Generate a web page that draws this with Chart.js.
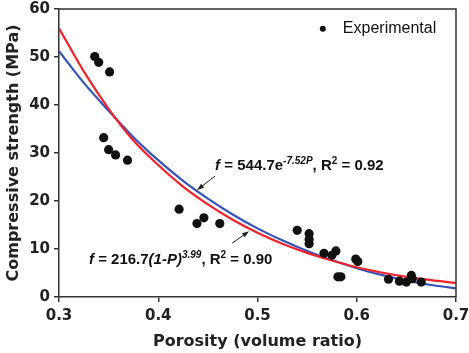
<!DOCTYPE html>
<html>
<head>
<meta charset="utf-8">
<title>Compressive strength vs porosity</title>
<script src="https://cdn.jsdelivr.net/npm/chart.js@4.4.0/dist/chart.umd.min.js"></script>
<style>
  body { margin: 0; background: #fff; }
</style>
</head>
<body>
<canvas id="chart" width="469" height="353"></canvas>
<script>
// experimental points (porosity, MPa)
const expPorosity = [0.336, 0.340, 0.351, 0.345, 0.350, 0.357, 0.369,
                     0.421, 0.439, 0.446, 0.462,
                     0.540, 0.552, 0.552, 0.552, 0.567, 0.575, 0.579, 0.599, 0.601,
                     0.581, 0.584, 0.632, 0.643, 0.650, 0.655, 0.656, 0.665];
const expStrength = [50.1, 48.9, 46.9, 33.2, 30.7, 29.6, 28.5,
                     18.3, 15.3, 16.5, 15.3,
                     13.9, 13.2, 12.0, 11.1, 9.1, 8.7, 9.6, 7.9, 7.4,
                     4.2, 4.2, 3.7, 3.3, 3.1, 4.5, 3.8, 3.1];

// fitted curves
const fitPorosity = [0.300, 0.325, 0.350, 0.375, 0.400, 0.425, 0.450, 0.475, 0.500,
                     0.525, 0.550, 0.575, 0.600, 0.625, 0.650, 0.675, 0.700];
const fitRed  = [56.0, 47.0, 39.2, 32.6, 27.5, 23.0, 19.3, 16.1, 13.4,
                 11.1, 9.2, 7.6, 6.2, 5.1, 4.2, 3.5, 2.9];
const fitBlue = [51.2, 44.6, 38.8, 33.3, 28.5, 24.2, 20.5, 17.2, 14.3,
                 11.8, 9.6, 7.7, 6.0, 4.6, 3.4, 2.5, 1.8];

const xTicks = [0.3, 0.4, 0.5, 0.6, 0.7];
const yTicks = [0, 10, 20, 30, 40, 50, 60];

function pairs(xs, ys) {
    return xs.map(function(x, i) { return {x: x, y: ys[i]}; });
}

const SANS = '"Liberation Sans", Arial, sans-serif';
const AXISFONT = '"DejaVu Sans", sans-serif';

// draw a line of text made of parts with different fonts / superscripts
function drawParts(ctx, x, y, parts) {
    ctx.textBaseline = 'alphabetic';
    ctx.textAlign = 'left';
    parts.forEach(function(p) {
        ctx.font = p.font;
        ctx.fillText(p.t, x, y - (p.up || 0));
        x += ctx.measureText(p.t).width;
    });
}

function drawArrow(ctx, x1, y1, x2, y2) {
    const ang = Math.atan2(y2 - y1, x2 - x1);
    ctx.beginPath();
    ctx.moveTo(x1, y1);
    ctx.lineTo(x2 - 5 * Math.cos(ang), y2 - 5 * Math.sin(ang));
    ctx.stroke();
    ctx.beginPath();
    ctx.moveTo(x2, y2);
    ctx.lineTo(x2 - 7 * Math.cos(ang) + 2.5 * Math.sin(ang), y2 - 7 * Math.sin(ang) - 2.5 * Math.cos(ang));
    ctx.lineTo(x2 - 7 * Math.cos(ang) - 2.5 * Math.sin(ang), y2 - 7 * Math.sin(ang) + 2.5 * Math.cos(ang));
    ctx.closePath();
    ctx.fill();
}

// frame, legend and the two equation labels
const extras = {
    id: 'extras',
    afterDraw: function(chart) {
        const ctx = chart.ctx;
        const xs = chart.scales.x, ys = chart.scales.y;
        const a = chart.chartArea;
        const px = function(v) { return xs.getPixelForValue(v); };
        const py = function(v) { return ys.getPixelForValue(v); };
        ctx.save();

        // top and right border
        ctx.strokeStyle = '#333';
        ctx.lineWidth = 1.5;
        ctx.beginPath();
        ctx.moveTo(a.left, a.top);
        ctx.lineTo(a.right, a.top);
        ctx.lineTo(a.right, a.bottom);
        ctx.stroke();

        // legend
        ctx.fillStyle = '#111';
        ctx.beginPath();
        ctx.arc(px(0.5658), py(55.9), 3, 0, Math.PI * 2);
        ctx.fill();
        ctx.font = '16px ' + SANS;
        ctx.textBaseline = 'middle';
        ctx.fillText('Experimental', px(0.586), py(56.0));

        const B = 'bold 15px ' + SANS;
        const BI = 'italic bold 15px ' + SANS;
        const S = 'bold 10px ' + SANS;
        const SI = 'italic bold 10px ' + SANS;

        drawParts(ctx, px(0.4573), py(26.45), [
            {t: 'f', font: BI},
            {t: ' = 544.7e', font: B},
            {t: '-7.52P', font: SI, up: 6},
            {t: ', R', font: B},
            {t: '2', font: S, up: 6},
            {t: ' = 0.92', font: B}
        ]);
        drawParts(ctx, px(0.3302), py(6.83), [
            {t: 'f', font: BI},
            {t: ' = 216.7', font: B},
            {t: '(1-P)', font: BI},
            {t: '3.99', font: SI, up: 6},
            {t: ', R', font: B},
            {t: '2', font: S, up: 6},
            {t: ' = 0.90', font: B}
        ]);

        ctx.strokeStyle = '#222';
        ctx.fillStyle = '#222';
        ctx.lineWidth = 1;
        drawArrow(ctx, px(0.4573), py(25.2), px(0.4391), py(22.3));
        drawArrow(ctx, px(0.4744), py(11.2), px(0.4915), py(13.7));
        ctx.restore();
    }
};

new Chart(document.getElementById('chart'), {
    type: 'scatter',
    data: {
        datasets: [{
            label: 'Experimental',
            data: pairs(expPorosity, expStrength),
            backgroundColor: '#111',
            borderColor: '#111',
            borderWidth: 0,
            pointRadius: 4.6
        }, {
            label: 'fit red',
            type: 'line',
            data: pairs(fitPorosity, fitRed),
            borderColor: '#f0222a',
            borderWidth: 2.2,
            pointRadius: 0,
            fill: false,
            cubicInterpolationMode: 'monotone'
        }, {
            label: 'fit blue',
            type: 'line',
            data: pairs(fitPorosity, fitBlue),
            borderColor: '#3553b8',
            borderWidth: 2.2,
            pointRadius: 0,
            fill: false,
            cubicInterpolationMode: 'monotone'
        }]
    },
    options: {
        responsive: false,
        animation: false,
        layout: { padding: { top: 9, right: 13, left: 0, bottom: 0 } },
        plugins: {
            legend: { display: false },
            tooltip: { enabled: false }
        },
        scales: {
            x: {
                type: 'linear',
                min: 0.3,
                max: 0.7,
                afterFit: function(s) { s.height = 56; s.paddingRight = 0; s.paddingLeft = 0; },
                afterBuildTicks: function(s) { s.ticks = xTicks.map(function(v) { return {value: v}; }); },
                ticks: {
                    padding: 7,
                    color: '#222',
                    font: { family: AXISFONT, size: 15, weight: 'bold', lineHeight: 1 },
                    callback: function(v) { return v.toFixed(1); }
                },
                grid: { drawOnChartArea: false, drawTicks: true, tickLength: 5, color: '#333', lineWidth: 1.5 },
                border: { display: true, color: '#333', width: 1.5 },
                title: {
                    display: true,
                    text: 'Porosity (volume ratio)',
                    color: '#222',
                    font: { family: AXISFONT, size: 16, weight: 'bold' },
                    padding: { top: 4, bottom: 2 }
                }
            },
            y: {
                min: 0,
                max: 60,
                afterFit: function(s) { s.width = 59; s.paddingTop = 0; s.paddingBottom = 0; },
                afterBuildTicks: function(s) { s.ticks = yTicks.map(function(v) { return {value: v}; }); },
                ticks: {
                    padding: 4,
                    color: '#222',
                    font: { family: AXISFONT, size: 15, weight: 'bold', lineHeight: 1 }
                },
                grid: { drawOnChartArea: false, drawTicks: true, tickLength: 5, color: '#333', lineWidth: 1.5 },
                border: { display: true, color: '#333', width: 1.5 },
                title: {
                    display: true,
                    text: 'Compressive strength (MPa)',
                    color: '#222',
                    font: { family: AXISFONT, size: 16, weight: 'bold' },
                    padding: { top: 4, bottom: 4 }
                }
            }
        }
    },
    plugins: [extras]
});
</script>
</body>
</html>
